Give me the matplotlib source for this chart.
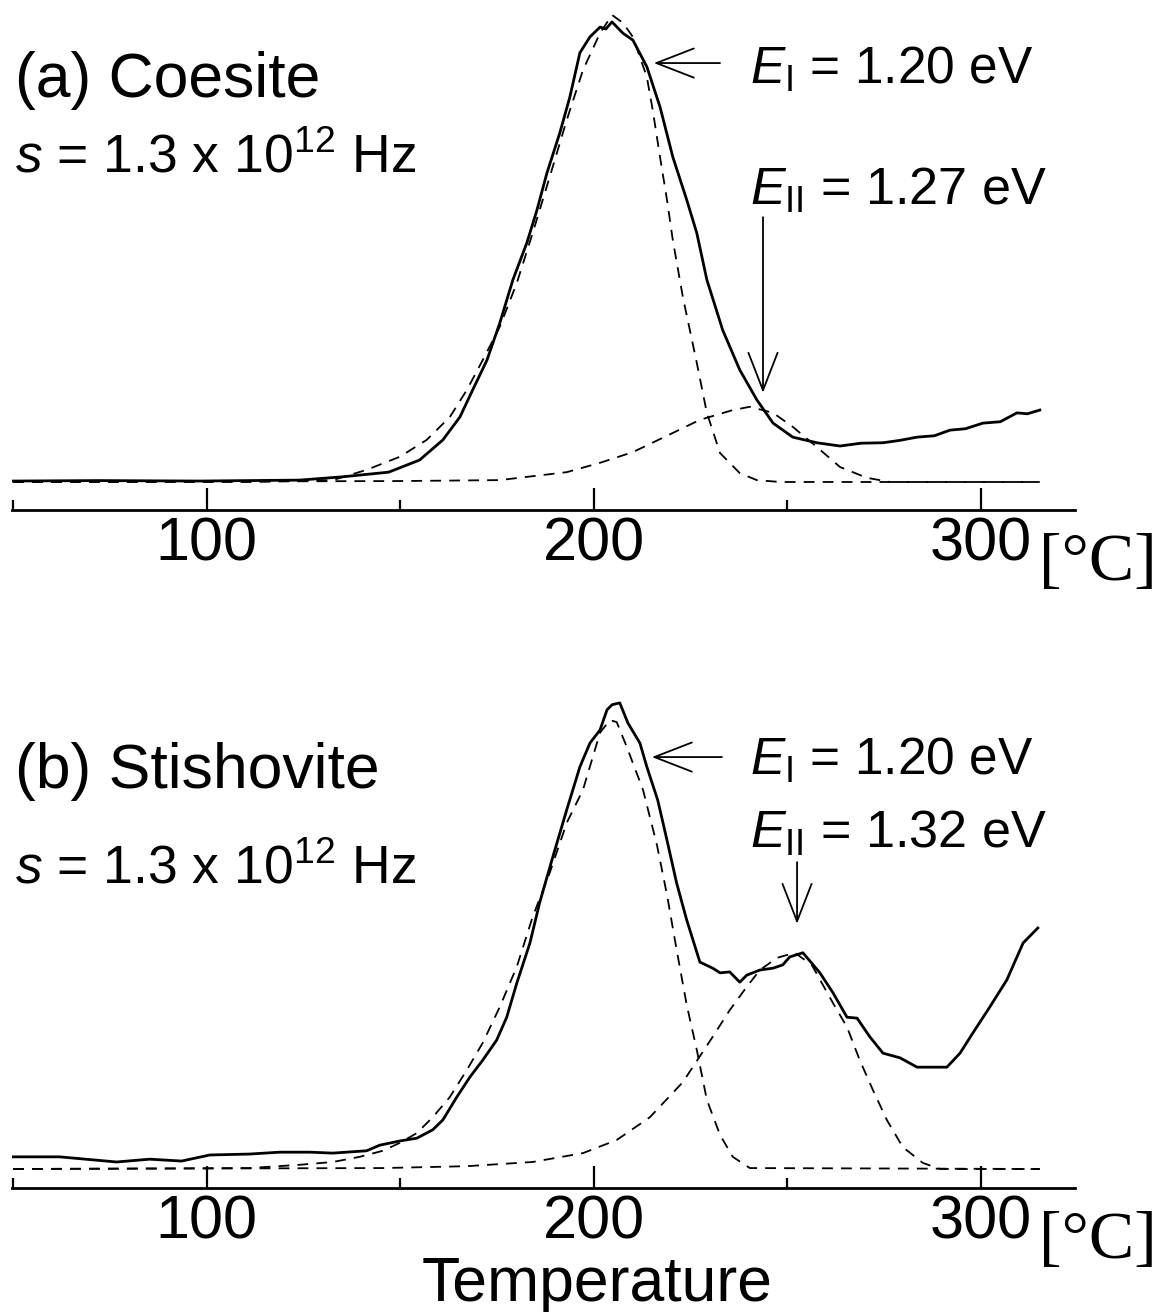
import matplotlib
matplotlib.use("Agg")
import matplotlib.pyplot as plt
from matplotlib.ticker import FixedLocator

plt.rcParams['font.family'] = ['Liberation Sans', 'DejaVu Sans']
plt.rcParams['mathtext.fontset'] = 'custom'
plt.rcParams['mathtext.rm'] = 'Liberation Sans'
plt.rcParams['mathtext.it'] = 'Liberation Sans:italic'

# ---- (a) Coesite: glow curve and the two fitted components ----
coe_T = [50, 72, 98, 124, 135, 147, 155, 161, 165.4, 168.7, 172.4, 175.7, 179.1,
         182.7, 185.3, 187.9, 191.2, 193.8, 196.4, 199.0, 201.6, 203.1, 204.7,
         207.5, 210.1, 213.7, 217.1, 220.4, 224.0, 226.6, 229.2, 233.3, 237.7,
         242.1, 246.3, 251.4, 257.6, 263.6, 269, 274.7, 279, 283.5, 288, 292.0,
         296, 300.5, 305, 309.3, 312, 315.2]
coe_tl = [0.2, 0.3, 0.2, 0.4, 1.1, 2.1, 4.7, 9.0, 13.9, 19.7, 26.1, 34.0, 43.3,
          51.2, 58.2, 66.2, 74.7, 82.4, 91.9, 95.3, 97.4, 97.0, 98.5,
          96.1, 94.6, 88.9, 80.3, 69.6, 60.4, 53.3, 43.3, 32.5, 24.0,
          17.6, 12.6, 9.6, 8.4, 7.7, 8.3, 8.4, 8.9, 9.6, 9.9, 11.1,
          11.4, 12.6, 12.9, 14.8, 14.6, 15.4]

coe_fit1_T = [50, 111, 132.6, 141.3, 149.9, 156.8, 162.8, 167.2, 171.3, 175.7, 180.1,
              184.2, 188.6, 193.0, 197.2, 201.6, 204.7, 207.5, 210.1, 213.7, 215.2,
              217.1, 218.9, 220.4, 223.0, 226.6, 229.2, 232.6, 237.7, 242.1, 248.1, 315.2]
coe_fit1 = [0, 0, 0.4, 2.6, 5.4, 9.0, 13.9, 19.7, 26.1, 33.2, 42.6,
            53.3, 65.3, 77.5, 88.2, 96.1, 100, 98.3, 95.3, 86.7, 79.7,
            69.6, 60.4, 51.8, 39.6, 25.5, 14.8, 6.2, 1.9, 0.4, 0, 0]

coe_fit2_T = [50, 149.9, 175.7, 193.0, 201.6, 210.1, 218.9, 227.4, 235.9, 240.3,
              246.3, 251.4, 257.6, 263.6, 270.5, 276.5, 315.2]
coe_fit2 = [0, 0.2, 0.4, 2.1, 4.1, 6.4, 9.9, 13.3, 15.4, 16.1,
            14.8, 11.8, 7.5, 3.2, 0.9, 0, 0]

# ---- (b) Stishovite ----
sti_T = [50, 62, 76.7, 85.3, 93.5, 100.8, 111.1, 118.9, 126.6, 132.6, 141.3, 144.7,
         149.9, 154.3, 158.4, 161.0, 164.6, 168.0, 171.3, 174.9, 177.5, 180.1,
         183.5, 186.0, 189.4, 193.0, 196.4, 199.0, 201.6, 203.4, 204.7, 206.7,
         208.8, 211.9, 213.7, 216.5, 218.9, 221.4, 224.0, 227.4, 230.7, 232.6,
         235.1, 237.7, 239.5, 242.9, 246.3, 248.8, 250.6, 254.0, 258.4, 261.8,
         265.4, 268.0, 271.3, 274.7, 279.1, 283.5, 287.6, 291.2, 294.6, 297.9,
         302.3, 306.7, 310.9, 314.7]
sti_tl = [2.6, 2.6, 1.5, 2.1, 1.7, 3.0, 3.2, 3.6, 3.6, 3.4, 3.9, 5.1,
          6.0, 6.6, 8.4, 10.5, 15.4, 19.7, 23.3, 27.6, 32.5, 39.8,
          48.4, 57.0, 66.8, 76.9, 86.1, 91.2, 94.0, 98.3, 99.4, 99.8,
          95.5, 91.2, 86.1, 79.0, 70.4, 61.2, 53.3, 44.3, 43.0, 42.0,
          42.2, 40.0, 41.5, 42.6, 43.0, 43.7, 45.4, 46.3, 42.0, 37.7,
          32.5, 32.3, 28.3, 24.8, 23.8, 21.8, 21.8, 21.8, 24.8, 29.1,
          34.7, 40.5, 48.4, 51.6]

sti_fit1_T = [50, 111.1, 124.0, 132.6, 139.5, 145.5, 149.9, 154.3, 158.4, 162.8,
              167.2, 171.3, 175.7, 180.1, 184.2, 188.6, 193.0, 197.2, 201.6, 204.1,
              205.9, 208.5, 212.7, 216.3, 218.9, 221.4, 224.0, 226.6, 229.2, 232.6,
              235.9, 240.3, 315.2]
sti_fit1 = [0, 0.2, 0.9, 1.5, 2.6, 3.9, 5.6, 7.7, 11.1, 15.4,
            21.2, 27.0, 34.7, 43.3, 54.0, 63.4, 74.1, 81.2, 93.4, 96.1,
            95.7, 90.4, 81.2, 69.4, 58.7, 46.9, 35.1, 25.5, 14.8, 7.3,
            2.6, 0.2, 0]

sti_fit2_T = [50, 145.5, 167.2, 184.2, 197.2, 205.9, 214.5, 223.0, 230.7, 235.1,
              239.5, 242.9, 247.3, 251.9, 256.3, 261.8, 265.4, 268.7, 272.1, 275.7,
              279.8, 285.0, 289.4, 315.2]
sti_fit2 = [0, 0.2, 0.6, 1.5, 3.4, 6.2, 11.1, 18.6, 28.3, 34.0,
            39.0, 42.6, 45.2, 46.3, 43.7, 35.5, 30.4, 23.3, 16.9, 10.5,
            4.7, 1.3, 0, 0]

major_ticks = [100, 200, 300]
minor_ticks = [50, 150, 250]

W, H = 1167, 1312
fig = plt.figure(figsize=(W / 100, H / 100), dpi=100)

ax_a = fig.add_axes([12 / W, 1 - 510 / H, 1063 / W, 510 / H])
ax_b = fig.add_axes([12 / W, 1 - 1188 / H, 1063 / W, 508 / H])

dash = (0, (6, 4.5))
for ax in (ax_a, ax_b):
    for side in ('left', 'right', 'top'):
        ax.spines[side].set_visible(False)
    ax.spines['bottom'].set_linewidth(2.0)
    ax.set_xlim(49.7, 324.3)
    ax.xaxis.set_major_locator(FixedLocator(major_ticks))
    ax.xaxis.set_minor_locator(FixedLocator(minor_ticks))
    ax.tick_params(axis='x', which='major', direction='in', length=16, width=1.6,
                   labelsize=44, pad=5)
    ax.tick_params(axis='x', which='minor', direction='in', length=7.5, width=1.6)
    ax.set_yticks([])
    ax.patch.set_visible(False)

# panel (a)
ax_a.set_ylim(-6.0, 103.2)
ax_a.plot(coe_fit1_T, coe_fit1, color='black', lw=1.3, linestyle=dash)
ax_a.plot(coe_fit2_T, coe_fit2, color='black', lw=1.3, linestyle=dash)
ax_a.plot(coe_T, coe_tl, color='black', lw=2.0)

# panel (b)
ax_b.set_ylim(-4.07, 104.7)
ax_b.plot(sti_fit1_T, sti_fit1, color='black', lw=1.3, linestyle=dash)
ax_b.plot(sti_fit2_T, sti_fit2, color='black', lw=1.3, linestyle=dash)
ax_b.plot(sti_T, sti_tl, color='black', lw=2.0)

arrow = dict(arrowstyle='->,head_length=0.9,head_width=0.35', color='black',
             lw=1.3, shrinkA=0, shrinkB=0, mutation_scale=30)

# annotations (a)
ax_a.text(50.4, 82.5, '(a) Coesite', fontsize=45, ha='left', va='baseline')
ax_a.text(50.4, 66.2, r'$s$ = 1.3 x 10$^{12}$ Hz', fontsize=38.5, ha='left', va='baseline')
ax_a.annotate('', xy=(215.5, 89.7), xytext=(232.6, 89.7), arrowprops=arrow)
ax_a.text(240.3, 85.2, r'$E_{\mathrm{I}}$ = 1.20 eV', fontsize=37, ha='left', va='baseline')
ax_a.text(240.3, 59.3, r'$E_{\mathrm{II}}$ = 1.27 eV', fontsize=37.5, ha='left', va='baseline')
ax_a.annotate('', xy=(243.7, 19.1), xytext=(243.7, 56.7), arrowprops=arrow)
ax_a.text(315.0, -17.5, '[°C]', fontsize=49, family='Liberation Serif',
          ha='left', va='center', clip_on=False)

# annotations (b)
ax_b.text(50.4, 81.5, '(b) Stishovite', fontsize=45, ha='left', va='baseline')
ax_b.text(50.4, 61.2, r'$s$ = 1.3 x 10$^{12}$ Hz', fontsize=38.5, ha='left', va='baseline')
ax_b.annotate('', xy=(215.0, 88.2), xytext=(233.1, 88.2), arrowprops=arrow)
ax_b.text(240.3, 84.4, r'$E_{\mathrm{I}}$ = 1.20 eV', fontsize=37, ha='left', va='baseline')
ax_b.text(240.3, 68.7, r'$E_{\mathrm{II}}$ = 1.32 eV', fontsize=37.5, ha='left', va='baseline')
ax_b.annotate('', xy=(252.5, 52.5), xytext=(252.5, 65.7), arrowprops=arrow)
ax_b.text(315.0, -15.5, '[°C]', fontsize=49, family='Liberation Serif',
          ha='left', va='center', clip_on=False)

fig.text(597 / W, 1 - 1301 / H, 'Temperature', fontsize=45, ha='center', va='baseline')

fig.savefig('out.png', dpi=100)
